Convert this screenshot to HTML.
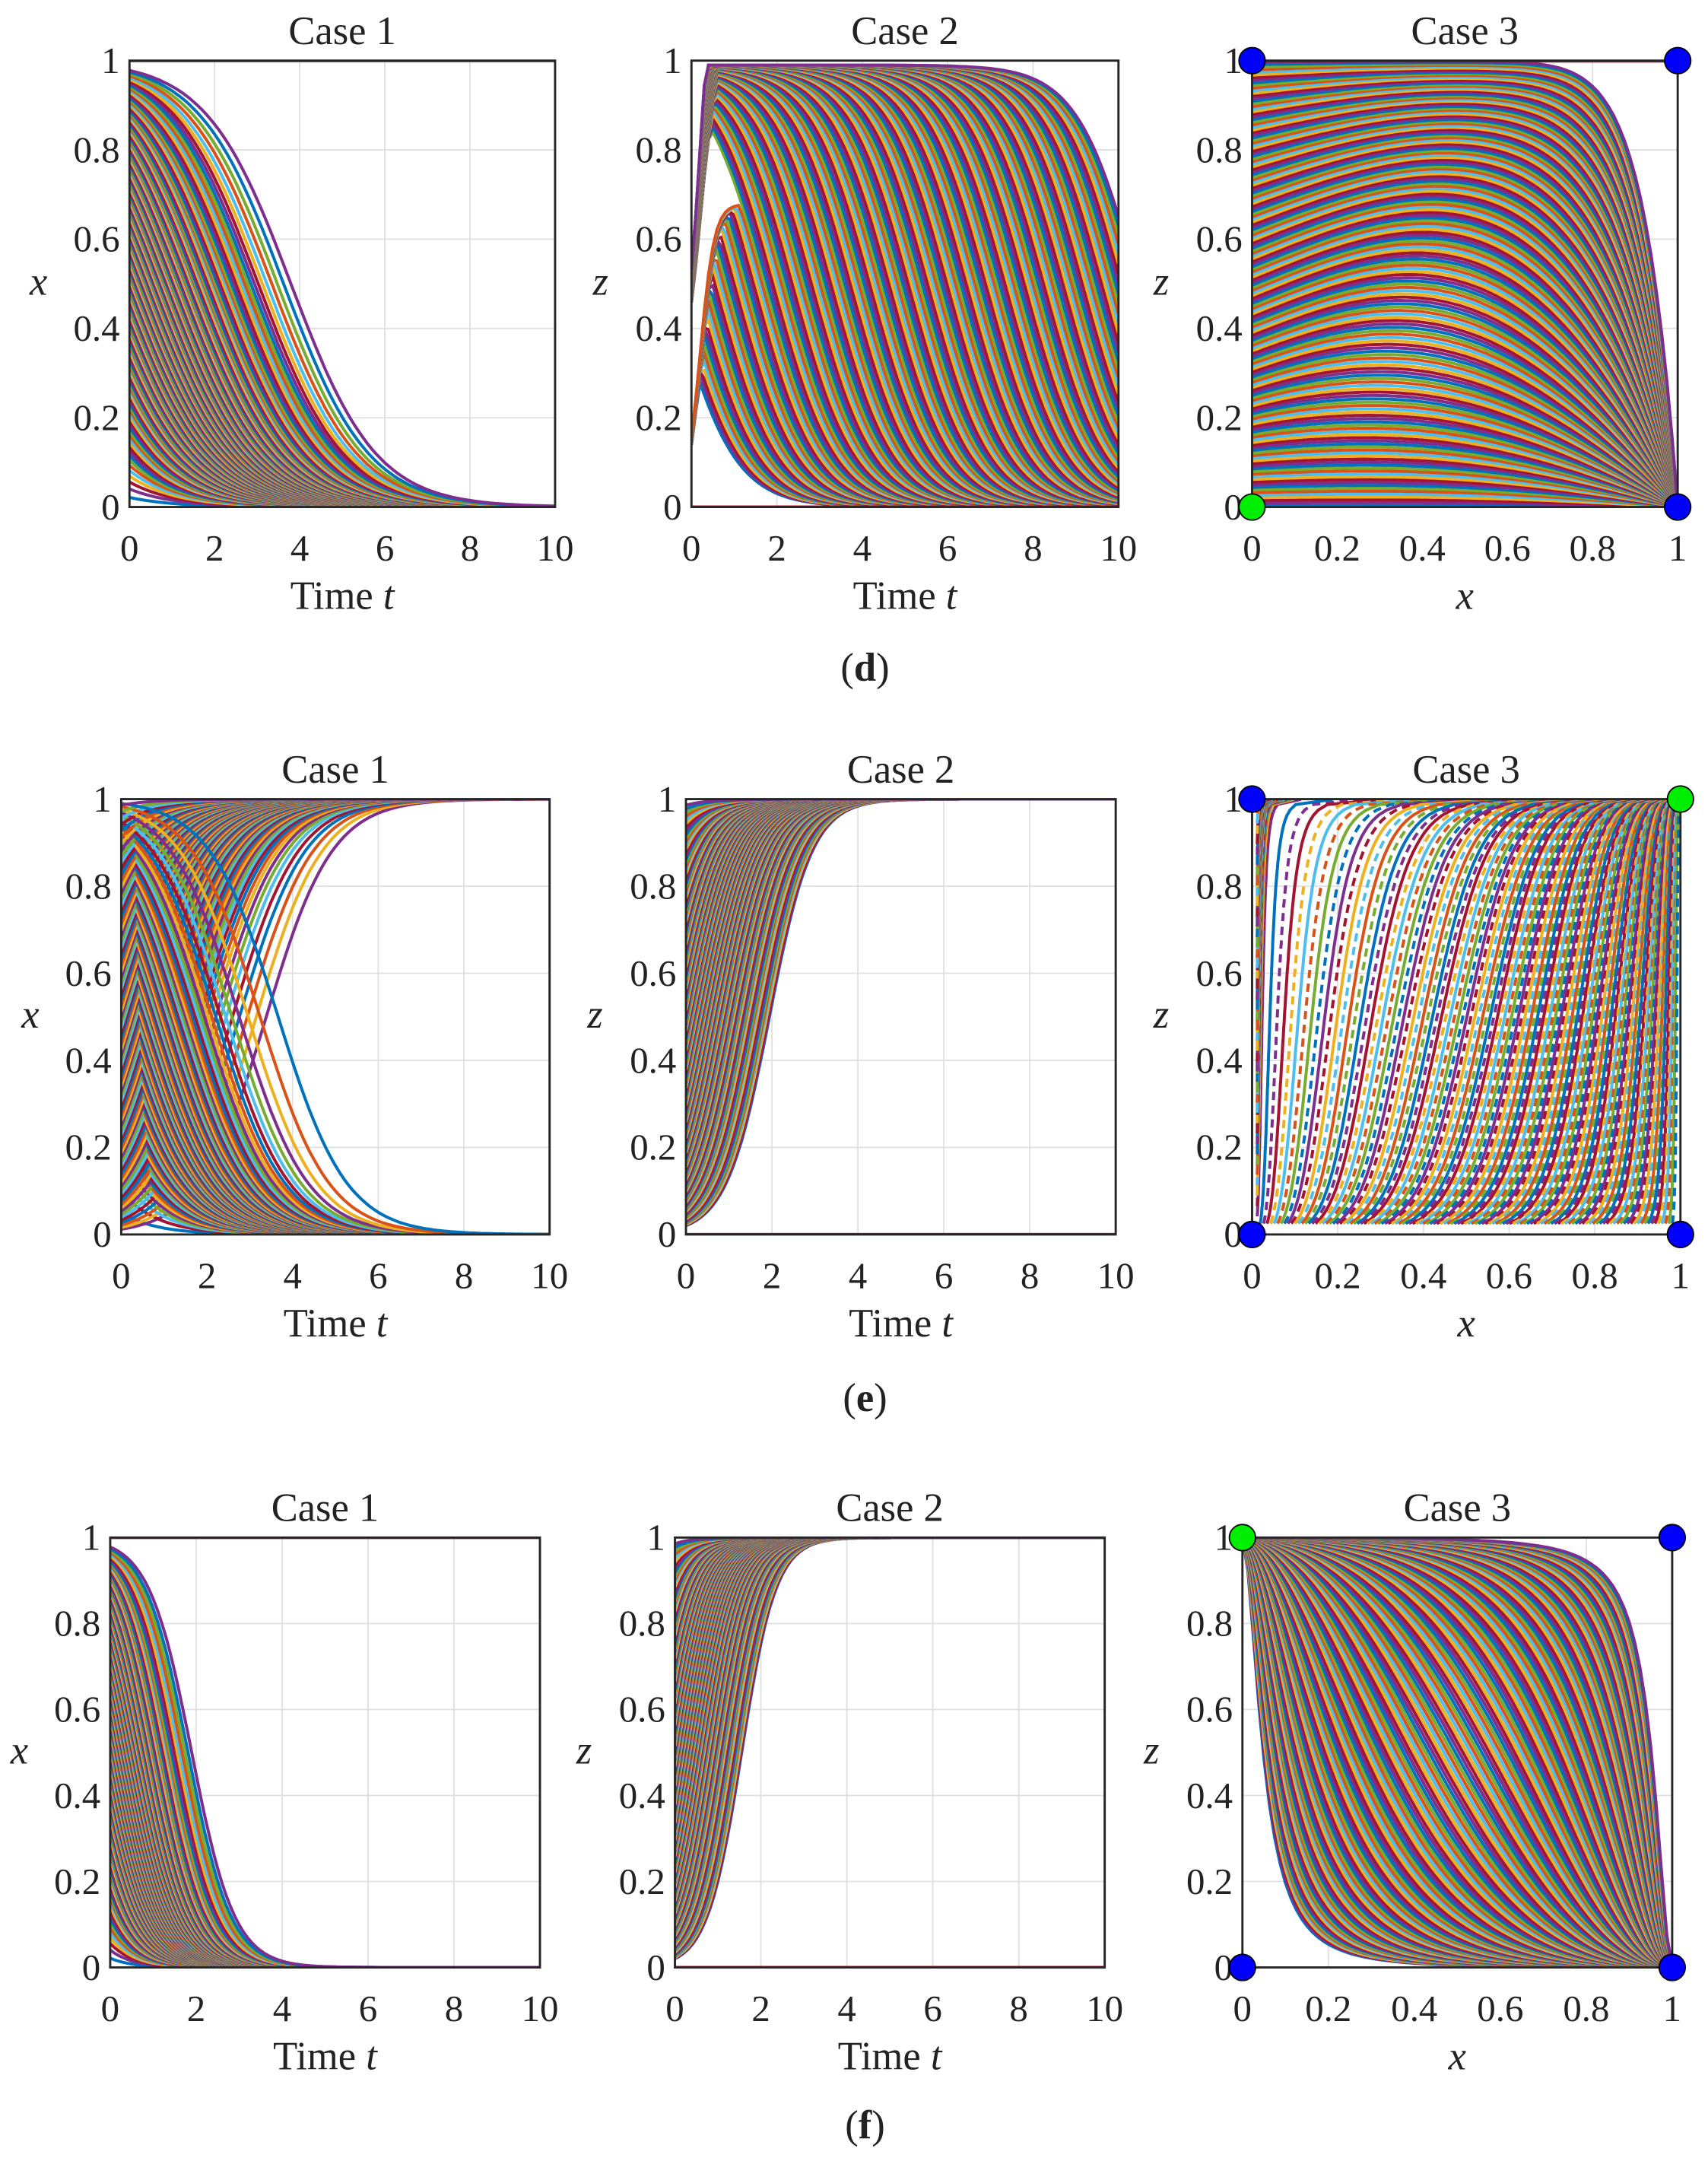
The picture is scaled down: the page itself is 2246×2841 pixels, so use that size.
<!DOCTYPE html>
<html><head><meta charset="utf-8"><style>
html,body{margin:0;padding:0;background:#fff}
svg{display:block}
text{font-family:"Liberation Serif",serif;fill:#222}
</style></head><body>
<svg id="s" xmlns="http://www.w3.org/2000/svg" width="2246" height="2841" viewBox="0 0 1240 1568.5"></svg>
<script>
const S=document.getElementById('s');
const C=['#0072BD','#D95319','#EDB120','#7E2F8E','#77AC30','#4DBEEE','#A2142F'];
let out='';let cid=0;
function lg(v){return 1/(1+Math.exp(-v));}
function panel(p){
 const {x0,y0,x1,y1,xmax,title,yl,xl,phase}=p;
 const W=x1-x0,H=y1-y0;
 const X=v=>x0+v/xmax*W, Y=v=>y1-v*H;
 cid++;
 out+=`<clipPath id="c${cid}"><rect x="${x0}" y="${y0}" width="${W}" height="${H}"/></clipPath>`;
 const xt=phase?[0,0.2,0.4,0.6,0.8,1]:[0,2,4,6,8,10];
 const xs=phase?['0','0.2','0.4','0.6','0.8','1']:['0','2','4','6','8','10'];
 let g='';
 xt.forEach(v=>{g+=`<line x1="${X(v)}" y1="${y0}" x2="${X(v)}" y2="${y1}" stroke="#e0e0e0" stroke-width="1"/>`;});
 [0,0.2,0.4,0.6,0.8,1].forEach(v=>{g+=`<line x1="${x0}" y1="${Y(v)}" x2="${x1}" y2="${Y(v)}" stroke="#e0e0e0" stroke-width="1"/>`;});
 out+=g;
 out+=`<g clip-path="url(#c${cid})" fill="none" stroke-width="2.2">`;
 let i=0;
 p.curves.forEach(pts=>{
   let d='M'+pts.map(q=>X(q[0]).toFixed(1)+','+Y(q[1]).toFixed(1)).join('L');
   out+=`<path d="${d}" stroke="${C[(i*3)%7]}"${p.dash&&i%2?' stroke-dasharray="6,4"':''}/>`;i++;
 });
 out+='</g>';
 out+=`<rect x="${x0}" y="${y0}" width="${W}" height="${H}" fill="none" stroke="#262626" stroke-width="1.6"/>`;
 xt.forEach((v,k)=>{out+=`<text x="${X(v)}" y="${y1+39}" font-size="27" text-anchor="middle">${xs[k]}</text>`;});
 const ys=['0','0.2','0.4','0.6','0.8','1'];
 [0,0.2,0.4,0.6,0.8,1].forEach((v,k)=>{out+=`<text x="${x0-7}" y="${Y(v)+9}" font-size="27" text-anchor="end">${ys[k]}</text>`;});
 out+=`<text x="${(x0+x1)/2}" y="${y0-12}" font-size="29" text-anchor="middle">${title}</text>`;
 out+=`<text x="${(x0+x1)/2}" y="${y1+74}" font-size="29" text-anchor="middle">${xl}</text>`;
 out+=`<text x="${x0-66}" y="${(y0+y1)/2+8}" font-size="29" font-style="italic" text-anchor="middle">${yl}</text>`;
 if(p.dots)p.dots.forEach(d=>{out+=`<circle cx="${X(d[0])}" cy="${Y(d[1])}" r="9.5" fill="${d[2]}" stroke="#000" stroke-width="1"/>`;});
}
function tcurve(f){let a=[];for(let k=0;k<=100;k++){let t=k/10;a.push([t,f(t)]);}return a;}
function pcurve(f){let a=[];for(let k=0;k<=80;k++){let s=k/80;a.push(f(s));}return a;}
function lgs(x0,r,t){const K=(1-x0)/x0;return 1/(1+K*Math.exp(-r*t));}
const N=170;
let d1=[],d2=[],d3=[],e1=[],e2=[],e3=[],f1=[],f2=[],f3=[];
for(let i=0;i<N;i++){const u=(i+0.5)/N;
 const a=0.005+0.975*Math.pow(u,0.7);
 d1.push(tcurve(t=>lgs(a,-1.0,t)));
 const m2=u*11-0.5; d2.push(tcurve(t=>{let v=lg(-(t-m2)*1.4)*(0.99); let rise=lg((t-0.2)*6); return Math.min(v,rise*(0.6+0.4*u)+ (u<0.2?0:0.3));}));
 const z0=u; d3.push(pcurve(s=>[s, z0*(1-Math.pow(s,1+12*z0*z0))+ (1-z0)*0.5*z0*Math.sin(Math.PI*s)]));
 if(i%2){const c=0.01+0.98*Math.pow(u,1.3); e1.push(tcurve(t=>lgs(c,1.3,t)));} else {const c=0.02+0.975*Math.pow(u,0.6); e1.push(tcurve(t=>lgs(c,-1.25,t)));}
 const b=0.02+0.97*Math.pow(u,1.5);
 e2.push(tcurve(t=>lgs(b,2.0,t)));
 f1.push(tcurve(t=>lgs(a,-2.0,t)));
 f2.push(tcurve(t=>lgs(b,2.5,t)));
 const c=Math.pow(20,u*2-1); f3.push(pcurve(s=>{let r=s/(1-s+1e-6); return [s,1/(1+Math.pow(r/c,1.8))];}));
}
const kk=0.22;
function e3c(xs,zs){const K=(xs/(1-xs))/Math.pow(zs/(1-zs),kk);return pcurve(s=>{let z=zs+(0.9995-zs)*s;let R=K*Math.pow(z/(1-z),kk);return [R/(1+R),z];});}
for(let i=0;i<120;i++){const u=(i+0.5)/120;e3.push(e3c(0.015+0.97*u,0.025));}
for(let i=0;i<40;i++){const u=(i+0.5)/40;e3.push(e3c(0.012,0.03+0.95*u));}
d1.push(tcurve(t=>1)); d2.push(tcurve(t=>0)); d3.push(pcurve(s=>[s,0.999]));
e2.push(tcurve(t=>0));
f1.push(tcurve(t=>1)); f2.push(tcurve(t=>0));
const B='#0000ff',G='#00ee00';
const TT='Time <tspan font-style="italic">t</tspan>',XX='<tspan font-style="italic">x</tspan>';
panel({x0:94,y0:44,x1:403,y1:368,xmax:10,title:'Case 1',yl:'x',xl:TT,curves:d1});
panel({x0:502,y0:44,x1:812,y1:368,xmax:10,title:'Case 2',yl:'z',xl:TT,curves:d2});
panel({x0:909,y0:44,x1:1218,y1:368,xmax:1,phase:1,title:'Case 3',yl:'z',xl:XX,curves:d3,dots:[[0,1,B],[1,1,B],[0,0,G],[1,0,B]]});
panel({x0:88,y0:580,x1:399,y1:896,xmax:10,title:'Case 1',yl:'x',xl:TT,curves:e1});
panel({x0:498,y0:580,x1:810,y1:896,xmax:10,title:'Case 2',yl:'z',xl:TT,curves:e2});
panel({x0:909,y0:580,x1:1220,y1:896,xmax:1,phase:1,title:'Case 3',yl:'z',xl:XX,curves:e3,dash:1,dots:[[0,1,B],[1,1,G],[0,0,B],[1,0,B]]});
panel({x0:80,y0:1116,x1:392,y1:1428,xmax:10,title:'Case 1',yl:'x',xl:TT,curves:f1});
panel({x0:490,y0:1116,x1:802,y1:1428,xmax:10,title:'Case 2',yl:'z',xl:TT,curves:f2});
panel({x0:902,y0:1116,x1:1214,y1:1428,xmax:1,phase:1,title:'Case 3',yl:'z',xl:XX,curves:f3,dots:[[0,1,G],[1,1,B],[0,0,B],[1,0,B]]});
out+=`<text x="628" y="494" font-size="29" text-anchor="middle">(<tspan font-weight="bold">d</tspan>)</text>`;
out+=`<text x="628" y="1024" font-size="29" text-anchor="middle">(<tspan font-weight="bold">e</tspan>)</text>`;
out+=`<text x="628" y="1552" font-size="29" text-anchor="middle">(<tspan font-weight="bold">f</tspan>)</text>`;
S.innerHTML=out;
</script>
</body></html>
